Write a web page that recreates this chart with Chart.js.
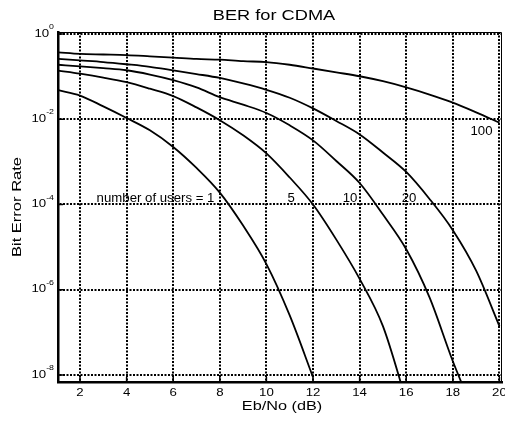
<!DOCTYPE html>
<html>
<head>
<meta charset="utf-8">
<title>BER for CDMA</title>
<script src="https://cdn.jsdelivr.net/npm/chart.js@4.4.1/dist/chart.umd.min.js"></script>
<style>
  html, body { margin: 0; padding: 0; background: #fff; }
  #wrap { width: 505px; height: 422px; }
</style>
</head>
<body>
<div id="wrap"><canvas id="ber" width="505" height="422"></canvas></div>
<script>
// Eb/No points (dB) shared by every curve
const ebNo = [1.07, 2, 3, 4, 5, 6, 7, 8, 9, 10, 11, 12, 13, 14, 15, 16, 17, 18, 19, 20];

// bit error rate per number of users
const ber1 = [0.048, 0.036, 0.020, 0.0107, 0.0055, 0.00224, 7.2e-4, 1.9e-4, 3.2e-5, 4.0e-6, 2.5e-7, 8.9e-9];
const ber5 = [0.138, 0.117, 0.095, 0.074, 0.052, 0.035, 0.019, 0.0095, 0.0042, 0.00158, 4.3e-4, 1.0e-4,
              1.5e-5, 1.8e-6, 1.4e-7, 2.5e-9];
const ber10 = [0.19, 0.174, 0.158, 0.141, 0.112, 0.083, 0.056, 0.033, 0.022, 0.014, 0.0072, 0.0032,
               0.00105, 3.2e-4, 5.8e-5, 8.9e-6, 6.6e-7, 2.1e-8, 1.0e-9];
const ber20 = [0.26, 0.24, 0.22, 0.195, 0.17, 0.14, 0.115, 0.093, 0.069, 0.049, 0.032, 0.018,
               0.0091, 0.0044, 0.00166, 5.8e-4, 1.35e-4, 2.5e-5, 2.8e-6, 1.4e-7];
const ber100 = [0.37, 0.34, 0.33, 0.32, 0.30, 0.28, 0.26, 0.25, 0.23, 0.22, 0.19, 0.155,
                0.126, 0.102, 0.078, 0.056, 0.038, 0.0245, 0.0145, 0.0083];

const xTicks = [2, 4, 6, 8, 10, 12, 14, 16, 18, 20];
const yTicks = [1e-8, 1e-6, 1e-4, 1e-2, 1];
const yTickExp = ['-8', '-6', '-4', '-2', '0'];

// curve annotations, placed in data units
const curveText = ['number of users = 1', '5', '10', '20', '100'];
const curveTextX = [5.24, 11.06, 13.59, 16.12, 19.23];
const curveTextY = [1.4e-4, 1.4e-4, 1.4e-4, 1.4e-4, 5.1e-3];

const FONT = '"Liberation Sans", Arial, sans-serif';

// the fonts in this figure run wide, so text gets a horizontal stretch
function wideText(ctx, text, x, y, size, align, sx) {
  ctx.save();
  ctx.font = size + 'px ' + FONT;
  ctx.textBaseline = 'middle';
  ctx.textAlign = 'left';
  const w = ctx.measureText(text).width * sx;
  let left = x;
  if (align === 'center') left = x - w / 2;
  else if (align === 'right') left = x - w;
  ctx.translate(left, y);
  ctx.scale(sx, 1);
  ctx.fillText(text, 0, 0);
  ctx.restore();
  return w;
}

const textPlugin = {
  id: 'berText',
  afterDraw(chart) {
    const ctx = chart.ctx;
    const xs = chart.scales.x;
    const ys = chart.scales.y;
    const area = chart.chartArea;
    ctx.save();
    ctx.fillStyle = '#000';

    // box on top and right
    ctx.strokeStyle = '#000';
    ctx.lineWidth = 1;
    ctx.beginPath();
    ctx.moveTo(area.left, area.top + 0.5);
    ctx.lineTo(area.right - 0.5, area.top + 0.5);
    ctx.lineTo(area.right - 0.5, area.bottom);
    ctx.stroke();

    // small inward ticks along the bottom and left axes
    ctx.lineWidth = 1.5;
    ctx.beginPath();
    xTicks.forEach(v => {
      const px = xs.getPixelForValue(v);
      ctx.moveTo(px, area.bottom);
      ctx.lineTo(px, area.bottom - 5);
    });
    yTicks.forEach(v => {
      const py = ys.getPixelForValue(v);
      ctx.moveTo(area.left, py);
      ctx.lineTo(area.left + 5, py);
    });
    ctx.stroke();

    wideText(ctx, 'BER for CDMA', 274, 16, 14, 'center', 1.3);
    wideText(ctx, 'Eb/No (dB)', 282, 406, 13, 'center', 1.25);

    ctx.save();
    ctx.translate(17, 207);
    ctx.rotate(-Math.PI / 2);
    wideText(ctx, 'Bit Error Rate', 0, 0, 13, 'center', 1.27);
    ctx.restore();

    xTicks.forEach(v => {
      wideText(ctx, String(v), xs.getPixelForValue(v), 392.5, 11.5, 'center', 1.15);
    });

    yTicks.forEach((v, i) => {
      const py = ys.getPixelForValue(v);
      const supW = wideText(ctx, yTickExp[i], 54, py - 7, 8, 'right', 1.1);
      wideText(ctx, '10', 54 - supW, py - 0.5, 11.5, 'right', 1.15);
    });

    curveText.forEach((t, i) => {
      wideText(ctx, t, xs.getPixelForValue(curveTextX[i]), ys.getPixelForValue(curveTextY[i]),
               12, 'center', 1.1);
    });
    ctx.restore();
  }
};

const series = [ber1, ber5, ber10, ber20, ber100];
const names = ['1 user', '5 users', '10 users', '20 users', '100 users'];

new Chart(document.getElementById('ber').getContext('2d'), {
  type: 'line',
  data: {
    datasets: series.map((ber, k) => ({
      label: names[k],
      data: ber.map((v, i) => ({ x: ebNo[i], y: v })),
      borderColor: '#000',
      borderWidth: 1.8,
      pointRadius: 0,
      fill: false,
      cubicInterpolationMode: 'monotone'
    }))
  },
  options: {
    responsive: false,
    animation: false,
    events: [],
    layout: { padding: { left: 58, top: 32, right: 3, bottom: 40 } },
    plugins: {
      legend: { display: false },
      title: { display: false },
      tooltip: { enabled: false }
    },
    scales: {
      x: {
        type: 'linear',
        min: 1.056,
        max: 20.11,
        afterBuildTicks: s => { s.ticks = xTicks.map(v => ({ value: v })); },
        ticks: { display: false },
        grid: { color: '#000', lineWidth: 2, drawTicks: false },
        border: { color: '#000', width: 2.5, dash: [2, 1.5] }
      },
      y: {
        type: 'logarithmic',
        min: 6.85e-9,
        max: 1.114,
        afterBuildTicks: s => { s.ticks = yTicks.map(v => ({ value: v })); },
        ticks: { display: false },
        grid: { color: '#000', lineWidth: 2, drawTicks: false },
        border: { color: '#000', width: 2.5, dash: [2, 1.5] }
      }
    }
  },
  plugins: [textPlugin]
});
</script>
</body>
</html>
